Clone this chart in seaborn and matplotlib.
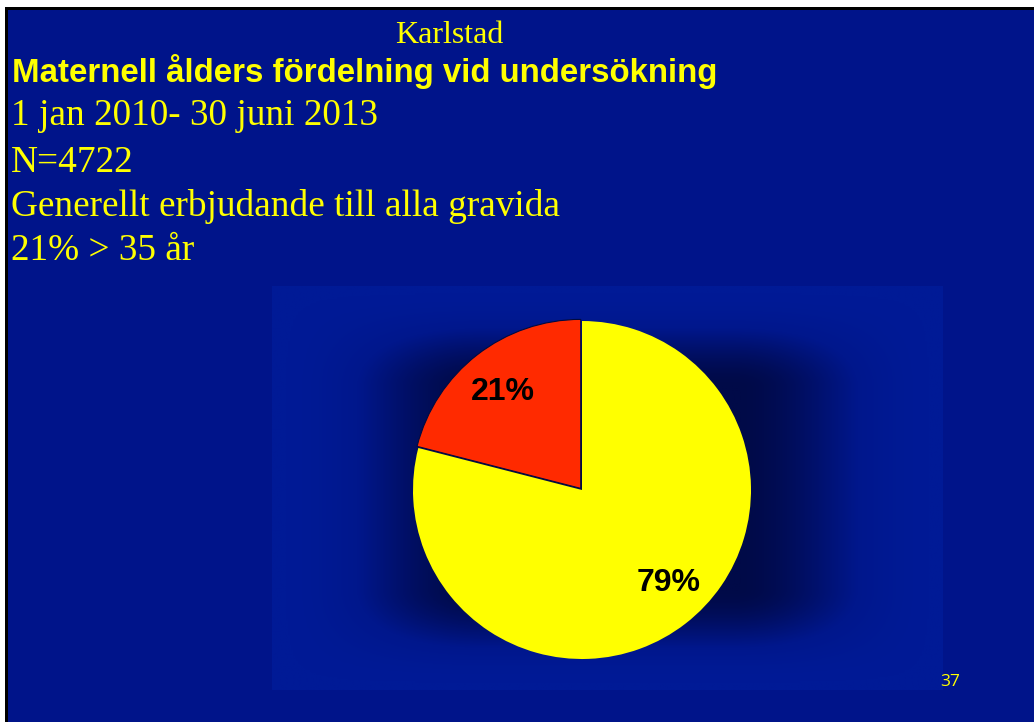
import numpy as np
import matplotlib
matplotlib.use("Agg")
import matplotlib.pyplot as plt
import seaborn as sns
from matplotlib.colors import LinearSegmentedColormap
from matplotlib.patches import Rectangle

# ----------------------
# Data
# ----------------------
age_groups = ["> 35 år", "<= 35 år"]
shares = [21, 79]
slice_colors = ["#ff2a00", "#ffff00"]

city = "Karlstad"
title = "Maternell ålders fördelning vid undersökning"
body_lines = [
    "1 jan 2010- 30 juni 2013",
    "N=4722",
    "Generellt erbjudande till alla gravida",
    "21% > 35 år",
]
page_no = "37"

# ----------------------
# Style
# ----------------------
sns.set_style("white")
YELLOW = "#ffff00"
SLIDE_BLUE = "#00148a"
W, H = 1034, 722

fig = plt.figure(figsize=(W / 100, H / 100), dpi=100)
fig.patch.set_facecolor(SLIDE_BLUE)
fig.patch.set_edgecolor(SLIDE_BLUE)


def fx(px):
    return px / W


def fy(py):
    return 1 - py / H


# white margin + black frame line on top and left only
fig.add_artist(Rectangle((0, fy(10)), 1, 10 / H, transform=fig.transFigure,
                         facecolor="black", edgecolor="none", zorder=0))
fig.add_artist(Rectangle((0, 0), fx(8), 1, transform=fig.transFigure,
                         facecolor="black", edgecolor="none", zorder=0))
fig.add_artist(Rectangle((0, fy(7)), 1, 7 / H, transform=fig.transFigure,
                         facecolor="white", edgecolor="none", zorder=0))
fig.add_artist(Rectangle((0, 0), fx(5), 1, transform=fig.transFigure,
                         facecolor="white", edgecolor="none", zorder=0))

# ----------------------
# Chart panel with dark centre gradient
# ----------------------
ax_bg = fig.add_axes([fx(272), fy(690), fx(943 - 272), (690 - 286) / H])
gx, gy = np.meshgrid(np.linspace(-1, 1, 400), np.linspace(-1, 1, 300))
tx = np.clip((np.abs(gx) - 0.38) / 0.6, 0, 1)
ty = np.clip((np.abs(gy) - 0.5) / 0.48, 0, 1)
tx = tx * tx * (3 - 2 * tx)
ty = ty * ty * (3 - 2 * ty)
grad = 1 - (1 - tx) * (1 - ty)
cmap = LinearSegmentedColormap.from_list("panel", ["#000a48", "#00106a", "#00178c", "#001a96"])
ax_bg.imshow(grad, cmap=cmap, aspect="auto", interpolation="bilinear", vmin=0, vmax=1)
ax_bg.axis("off")

# ----------------------
# Pie
# ----------------------
R = 169
ax = fig.add_axes([fx(582 - R), fy(490 + R), 2 * R / W, 2 * R / H])
palette = sns.color_palette(slice_colors)
wedges, texts, autotexts = ax.pie(
    shares,
    colors=palette,
    startangle=90,
    explode=[0.012, 0],
    autopct="%1.0f%%",
    pctdistance=0.75,
    wedgeprops=dict(edgecolor="#000a40", linewidth=0.8),
    textprops=dict(fontsize=23, fontweight="bold", color="black",
                   family="Liberation Sans"),
)
wedges[1].set_linewidth(0)
# nudge the labels toward where the slide has them
x79, y79 = autotexts[1].get_position()
autotexts[1].set_position((x79 + 0.05, y79 + 0.04))
x21, y21 = autotexts[0].get_position()
autotexts[0].set_position((x21, y21 - 0.02))
ax.set_xlim(-1, 1)
ax.set_ylim(-1, 1)
ax.axis("off")
ax.set_facecolor("none")

# ----------------------
# Slide texts
# ----------------------
fig.text(fx(449), fy(43), city, ha="center", va="baseline", color=YELLOW,
         fontsize=23, family="Liberation Serif")
fig.text(fx(12), fy(82), title, ha="left", va="baseline", color=YELLOW,
         fontsize=23.8, fontweight="bold", family="Liberation Sans")
baselines = [125, 172, 216, 260]
for line, b in zip(body_lines, baselines):
    fig.text(fx(11), fy(b), line, ha="left", va="baseline", color=YELLOW,
             fontsize=26.8, family="Liberation Serif")

fig.text(fx(940), fy(686), page_no, ha="left", va="baseline", color=YELLOW,
         fontsize=12.5, family="Open Sans")

fig.savefig("out.png", dpi=100, facecolor=fig.get_facecolor(),
            edgecolor=fig.get_edgecolor())
